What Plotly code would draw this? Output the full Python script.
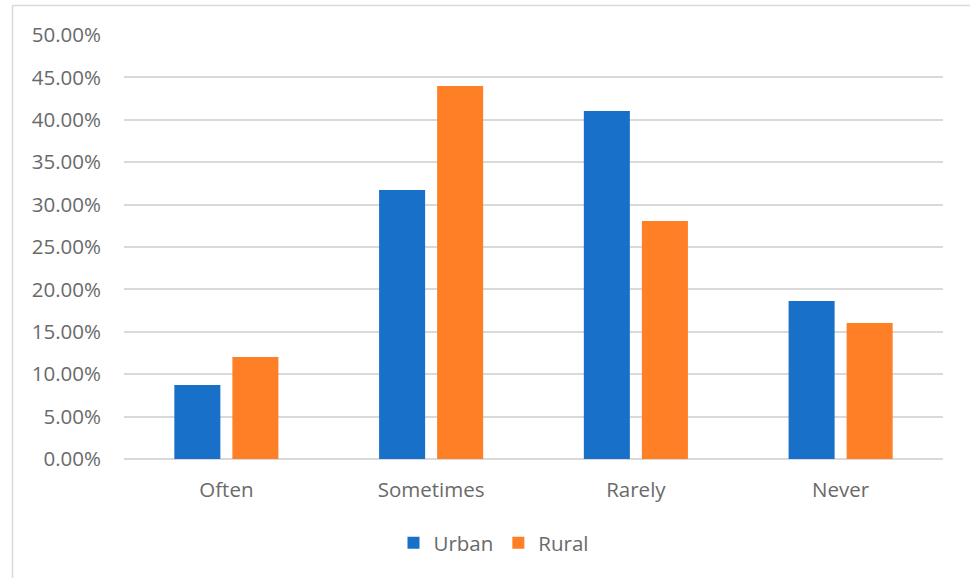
import plotly.graph_objects as go

# Survey response frequency by residence
categories = ["Often", "Sometimes", "Rarely", "Never"]
urban = [0.0873, 0.3172, 0.4104, 0.1863]
rural = [0.1203, 0.4399, 0.2807, 0.1604]
y_ticks = [i * 0.05 for i in range(11)]

URBAN_COLOR = "#1870C8"
RURAL_COLOR = "#FE7F26"
TEXT_COLOR = "#6A6A6A"
GRID_COLOR = "#D9D9D9"
FONT = "Open Sans, Liberation Sans, sans-serif"
FS = 20.5

fig = go.Figure()
fig.add_trace(go.Bar(name="Urban", x=categories, y=urban,
                     marker=dict(color=URBAN_COLOR, line=dict(width=0))))
fig.add_trace(go.Bar(name="Rural", x=categories, y=rural,
                     marker=dict(color=RURAL_COLOR, line=dict(width=0))))

L, R, T, B = 124, 27, 35, 119
W, H = 970, 578
pw, ph = W - L - R, H - T - B

def px_x(x):
    return (x - L) / pw

def px_y(y):
    return (H - B - y) / ph

fig.update_layout(
    width=W, height=H,
    margin=dict(l=L, r=R, t=T, b=B, pad=0),
    paper_bgcolor="white", plot_bgcolor="white",
    barmode="group", bargap=0.433, bargroupgap=0.207,
    font=dict(family=FONT, size=FS, color=TEXT_COLOR),
    showlegend=True,
    legend=dict(orientation="h", x=px_x(494), xanchor="center",
                y=px_y(543), yanchor="middle",
                font=dict(size=FS, color=TEXT_COLOR),
                itemwidth=30, traceorder="normal"),
    xaxis=dict(showgrid=False, showline=False, zeroline=False,
               ticks="", ticklabelstandoff=16,
               tickfont=dict(size=FS, color=TEXT_COLOR)),
    yaxis=dict(range=[0, 0.5], tickvals=y_ticks, tickformat=".2%",
               showgrid=True, gridcolor=GRID_COLOR, gridwidth=1.5,
               zeroline=True, zerolinecolor=GRID_COLOR, zerolinewidth=1.5,
               showline=False, ticks="", ticklabelstandoff=22,
               tickfont=dict(size=FS, color=TEXT_COLOR)),
    shapes=[
        dict(type="line", xref="paper", yref="paper",
             x0=px_x(12.5), x1=px_x(970), y0=px_y(5.5), y1=px_y(5.5),
             line=dict(color=GRID_COLOR, width=1.5)),
        dict(type="line", xref="paper", yref="paper",
             x0=px_x(12.5), x1=px_x(12.5), y0=px_y(5.5), y1=px_y(578),
             line=dict(color=GRID_COLOR, width=1.5)),
    ],
)

fig.write_html("out.html")
